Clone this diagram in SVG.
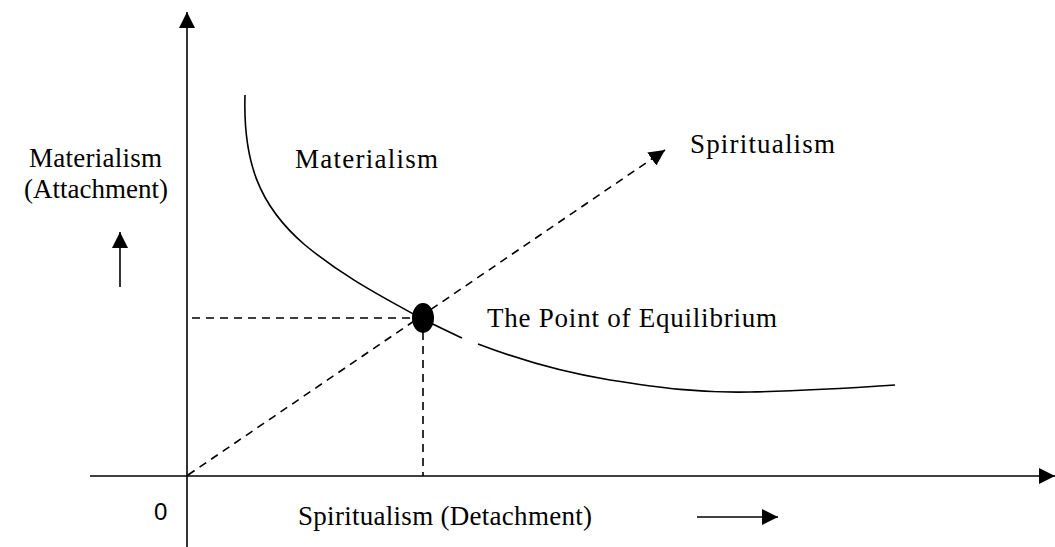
<svg xmlns="http://www.w3.org/2000/svg" width="1055" height="547" viewBox="0 0 1055 547">
<style>
.t{font-family:"Liberation Serif",serif;font-size:27px;fill:#000}
.s{font-family:"Liberation Sans",sans-serif;font-size:24px;fill:#000}
.ln{stroke:#000;stroke-width:1.6;fill:none}
.d{stroke:#000;stroke-width:1.6;fill:none;stroke-dasharray:8,6}
</style>
<defs>
<marker id="ah" viewBox="0 0 10 10" refX="10" refY="5" markerWidth="16" markerHeight="16" markerUnits="userSpaceOnUse" orient="auto">
<path d="M0,0 L10,5 L0,10 Z" fill="#000"/>
</marker>
</defs>
<g id="connectors">
<line class="ln" x1="187" y1="547" x2="187" y2="12" marker-end="url(#ah)"/>
<line class="ln" x1="90" y1="476" x2="1055" y2="476" marker-end="url(#ah)"/>
<line class="d" x1="188" y1="475" x2="665" y2="150" marker-end="url(#ah)"/>
<line class="d" x1="192" y1="318" x2="412" y2="318"/>
<line class="d" x1="423" y1="332" x2="423" y2="476"/>
<line class="ln" x1="120" y1="287" x2="120" y2="232" marker-end="url(#ah)"/>
<line class="ln" x1="697" y1="517" x2="778" y2="517" marker-end="url(#ah)"/>
</g>
<g id="curve">
<path class="ln" d="M245,95 C243,160 258,205 305,245 C345,278 385,298 415,315 C430,323 445,330 462,338"/>
<path class="ln" d="M478,344 C520,360 560,372 610,380 C660,388 700,393 750,392 C800,391 850,388 895,385"/>
</g>
<g id="equilibrium">
<ellipse cx="423" cy="318" rx="11" ry="15" fill="#000"/>
</g>
<g id="labels">
<text class="t" x="29" y="167" textLength="133" lengthAdjust="spacing">Materialism</text>
<text class="t" x="24" y="198" textLength="144" lengthAdjust="spacing">(Attachment)</text>
<text class="t" x="295" y="168" textLength="143" lengthAdjust="spacing">Materialism</text>
<text class="t" x="690" y="153" textLength="145" lengthAdjust="spacing">Spiritualism</text>
<text class="t" x="487" y="327" textLength="290" lengthAdjust="spacing">The Point of Equilibrium</text>
<text class="s" x="154" y="520">0</text>
<text class="t" x="298" y="525" textLength="294" lengthAdjust="spacing">Spiritualism (Detachment)</text>
</g>
</svg>
